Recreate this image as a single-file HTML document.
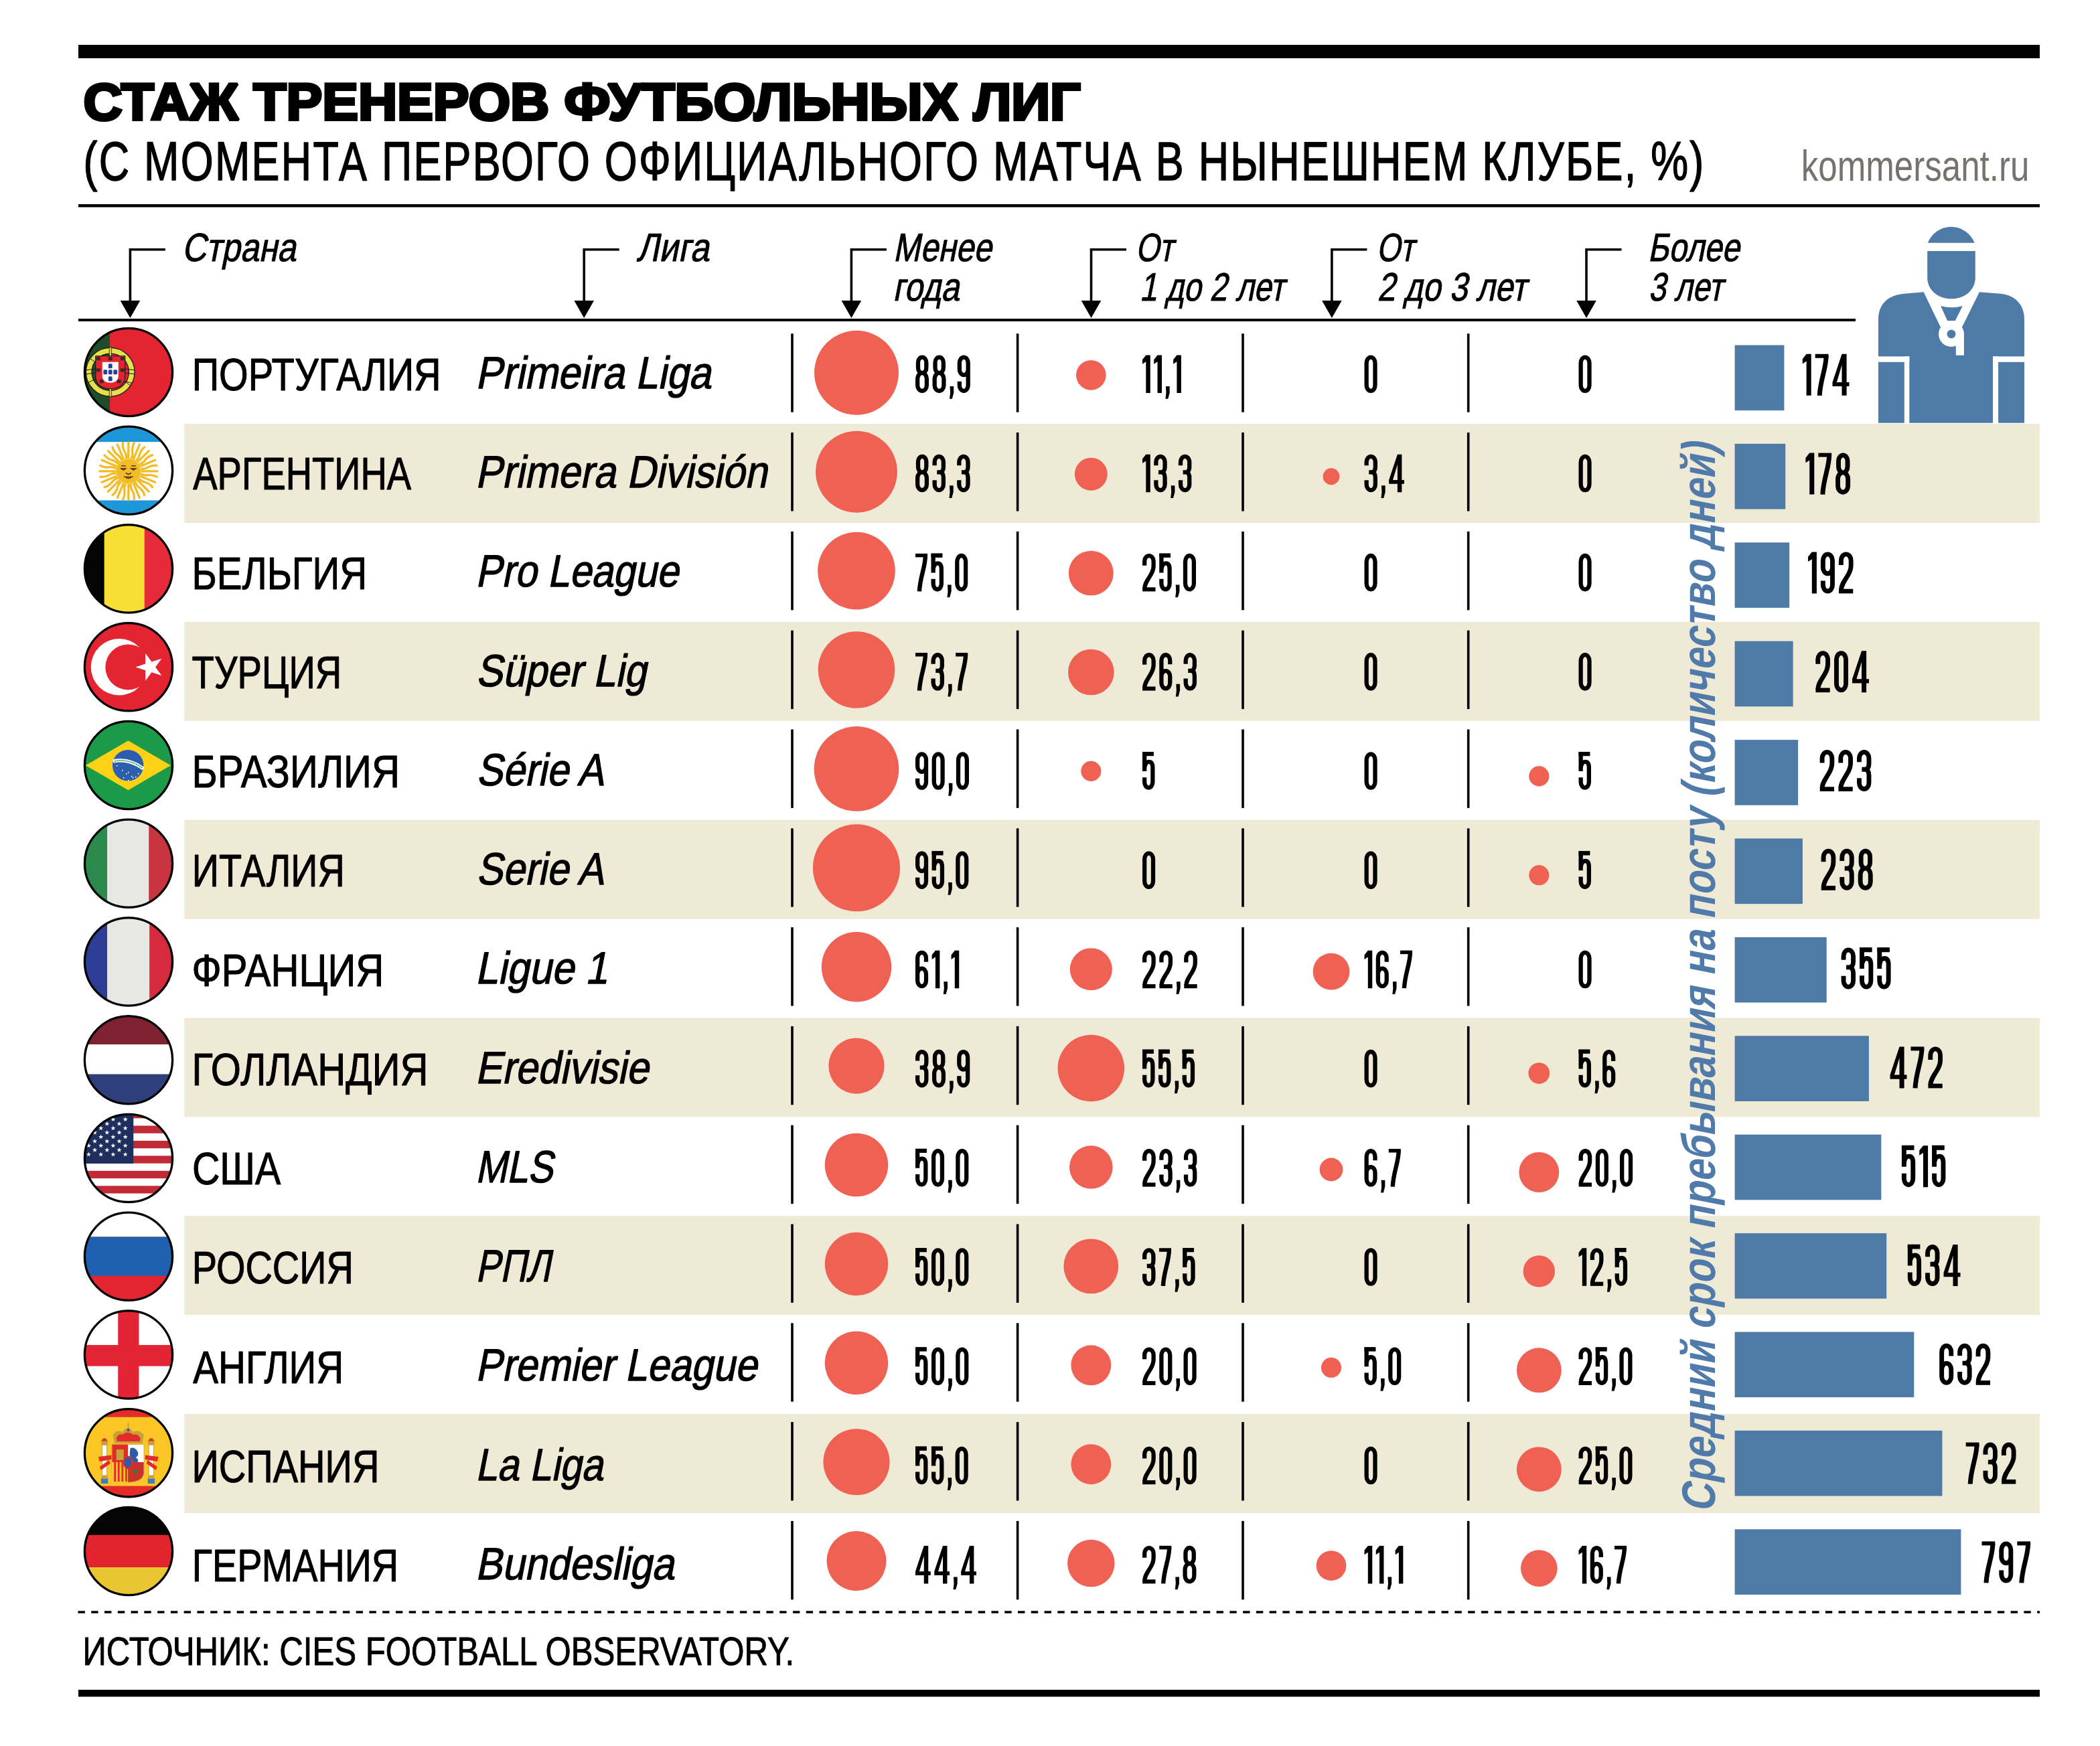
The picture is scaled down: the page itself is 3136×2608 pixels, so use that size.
<!DOCTYPE html><html><head><meta charset="utf-8"><style>html,body{margin:0;padding:0;background:#fff;overflow:hidden;}svg{display:block;font-family:"Liberation Sans",sans-serif;}</style></head><body>
<svg width="3136" height="2608" viewBox="0 0 3136 2608">
<defs><g id="g0"><path d="M3.45,13 A7.05,9.6 0 0 1 17.55,13 V49 A7.05,9.6 0 0 1 3.45,49 Z" fill="none" stroke="#000" stroke-width="6.9"/></g><g id="g1"><path d="M5.8,0 H12.9 V62 H5.8 V10.8 L0,14.6 V7.4 Z"/></g><g id="g2"><path d="M3.45,19.5 V12.6 A7.4,9.15 0 0 1 18.25,12.6 V20 C18.25,26 16.8,29.5 13.2,35.5 C7.5,45 3.6,50 3.6,57" fill="none" stroke="#000" stroke-width="6.9"/><path d="M0.15,55.3 H21.4 V62 H0.15 Z"/></g><g id="g3"><path d="M3.45,18.2 V12.6 A7.25,9.15 0 0 1 17.95,12.6 V21 C17.95,26.2 15.8,29.3 11.5,29.3 H7.4 M11.5,29.3 C15.8,29.3 17.95,32.5 17.95,38 V49.4 A7.25,9.15 0 0 1 3.45,49.4 V42.2" fill="none" stroke="#000" stroke-width="6.9"/></g><g id="g4"><path d="M14,0 H21.1 V42.1 H25 V48.3 H21.1 V62 H14 V48.3 H0 V42.1 Z M14,16.5 L6.4,42.1 H14 Z" fill-rule="evenodd"/></g><g id="g5"><path d="M18.4,3.1 H3.45 V31.5" fill="none" stroke="#000" stroke-width="6.9"/><path d="M0,0 H18.4 V6.2 H0 Z"/><path d="M3.45,25 C4.6,19.3 7.3,15.9 10.6,15.9 C14.6,15.9 16.85,19.2 16.85,25.5 V49.4 A6.7,9.15 0 0 1 3.45,49.4 V41.6" fill="none" stroke="#000" stroke-width="6.9"/></g><g id="g6"><path d="M17.55,18.8 V12.6 A7.05,9.15 0 0 0 3.45,12.6 V49.4 A7.05,9.15 0 0 0 17.55,49.4 V38.7 A7.05,9.1 0 0 0 3.45,38.7" fill="none" stroke="#000" stroke-width="6.9"/></g><g id="g7"><path d="M0,0 H19.8 V6 H0 Z"/><path d="M16.35,3 C16.35,22 7.6,38 6.5,62" fill="none" stroke="#000" stroke-width="7.0"/></g><g id="g8"><path d="M4.4,11.9 A6.75,8.5 0 0 1 17.9,11.9 V20.75 A6.75,8.5 0 0 1 4.4,20.75 Z M3.45,38.75 A7.55,9.5 0 0 1 18.55,38.75 V49.1 A7.55,9.5 0 0 1 3.45,49.1 Z" fill="none" stroke="#000" stroke-width="6.9"/></g><g id="g9"><g transform="rotate(180 10.5 31)"><path d="M17.55,18.8 V12.6 A7.05,9.15 0 0 0 3.45,12.6 V49.4 A7.05,9.15 0 0 0 17.55,49.4 V38.7 A7.05,9.1 0 0 0 3.45,38.7" fill="none" stroke="#000" stroke-width="6.9"/></g></g><g id="gc"><path d="M0.55,51.1 H6.8 V62 L4.15,71.7 H0 L1.1,62 Z"/></g></defs>
<rect x="0" y="0" width="3136" height="2608" fill="#fff"/>
<rect x="275.4" y="633.0" width="2770.6" height="148" fill="#efead5"/>
<rect x="275.4" y="928.8" width="2770.6" height="148" fill="#efead5"/>
<rect x="275.4" y="1224.6" width="2770.6" height="148" fill="#efead5"/>
<rect x="275.4" y="1520.4" width="2770.6" height="148" fill="#efead5"/>
<rect x="275.4" y="1816.2" width="2770.6" height="148" fill="#efead5"/>
<rect x="275.4" y="2112.0" width="2770.6" height="148" fill="#efead5"/>
<rect x="117" y="67" width="2929" height="20" fill="#000"/>
<rect x="117" y="305" width="2929" height="4.5" fill="#000"/>
<rect x="117" y="476" width="2654" height="4" fill="#000"/>
<line x1="116.5" y1="2408" x2="3046" y2="2408" stroke="#000" stroke-width="3.6" stroke-dasharray="10.4 9.368"/>
<rect x="117" y="2524" width="2929" height="10.4" fill="#000"/>
<path d="M246.9,372.7 H194.4 V452" fill="none" stroke="#000" stroke-width="3.6"/>
<path d="M179.6,449.1 H209.2 L194.4,474.9 Z" fill="#000"/>
<path d="M924.7,372.7 H872.2 V452" fill="none" stroke="#000" stroke-width="3.6"/>
<path d="M857.4,449.1 H887.0 L872.2,474.9 Z" fill="#000"/>
<path d="M1323.9,372.7 H1271.4 V452" fill="none" stroke="#000" stroke-width="3.6"/>
<path d="M1256.6,449.1 H1286.2 L1271.4,474.9 Z" fill="#000"/>
<path d="M1682.0,372.7 H1629.5 V452" fill="none" stroke="#000" stroke-width="3.6"/>
<path d="M1614.7,449.1 H1644.3 L1629.5,474.9 Z" fill="#000"/>
<path d="M2041.4,372.7 H1988.9 V452" fill="none" stroke="#000" stroke-width="3.6"/>
<path d="M1974.1,449.1 H2003.7 L1988.9,474.9 Z" fill="#000"/>
<path d="M2421.5,372.7 H2369.0 V452" fill="none" stroke="#000" stroke-width="3.6"/>
<path d="M2354.2,449.1 H2383.8 L2369.0,474.9 Z" fill="#000"/>
<rect x="1181.2" y="498.3" width="3.6" height="117.4" fill="#000"/>
<rect x="1517.8" y="498.3" width="3.6" height="117.4" fill="#000"/>
<rect x="1854.2" y="498.3" width="3.6" height="117.4" fill="#000"/>
<rect x="2190.9" y="498.3" width="3.6" height="117.4" fill="#000"/>
<rect x="1181.2" y="646.1" width="3.6" height="117.4" fill="#000"/>
<rect x="1517.8" y="646.1" width="3.6" height="117.4" fill="#000"/>
<rect x="1854.2" y="646.1" width="3.6" height="117.4" fill="#000"/>
<rect x="2190.9" y="646.1" width="3.6" height="117.4" fill="#000"/>
<rect x="1181.2" y="793.9" width="3.6" height="117.4" fill="#000"/>
<rect x="1517.8" y="793.9" width="3.6" height="117.4" fill="#000"/>
<rect x="1854.2" y="793.9" width="3.6" height="117.4" fill="#000"/>
<rect x="2190.9" y="793.9" width="3.6" height="117.4" fill="#000"/>
<rect x="1181.2" y="941.7" width="3.6" height="117.4" fill="#000"/>
<rect x="1517.8" y="941.7" width="3.6" height="117.4" fill="#000"/>
<rect x="1854.2" y="941.7" width="3.6" height="117.4" fill="#000"/>
<rect x="2190.9" y="941.7" width="3.6" height="117.4" fill="#000"/>
<rect x="1181.2" y="1089.5" width="3.6" height="117.4" fill="#000"/>
<rect x="1517.8" y="1089.5" width="3.6" height="117.4" fill="#000"/>
<rect x="1854.2" y="1089.5" width="3.6" height="117.4" fill="#000"/>
<rect x="2190.9" y="1089.5" width="3.6" height="117.4" fill="#000"/>
<rect x="1181.2" y="1237.3" width="3.6" height="117.4" fill="#000"/>
<rect x="1517.8" y="1237.3" width="3.6" height="117.4" fill="#000"/>
<rect x="1854.2" y="1237.3" width="3.6" height="117.4" fill="#000"/>
<rect x="2190.9" y="1237.3" width="3.6" height="117.4" fill="#000"/>
<rect x="1181.2" y="1385.1" width="3.6" height="117.4" fill="#000"/>
<rect x="1517.8" y="1385.1" width="3.6" height="117.4" fill="#000"/>
<rect x="1854.2" y="1385.1" width="3.6" height="117.4" fill="#000"/>
<rect x="2190.9" y="1385.1" width="3.6" height="117.4" fill="#000"/>
<rect x="1181.2" y="1532.9" width="3.6" height="117.4" fill="#000"/>
<rect x="1517.8" y="1532.9" width="3.6" height="117.4" fill="#000"/>
<rect x="1854.2" y="1532.9" width="3.6" height="117.4" fill="#000"/>
<rect x="2190.9" y="1532.9" width="3.6" height="117.4" fill="#000"/>
<rect x="1181.2" y="1680.7" width="3.6" height="117.4" fill="#000"/>
<rect x="1517.8" y="1680.7" width="3.6" height="117.4" fill="#000"/>
<rect x="1854.2" y="1680.7" width="3.6" height="117.4" fill="#000"/>
<rect x="2190.9" y="1680.7" width="3.6" height="117.4" fill="#000"/>
<rect x="1181.2" y="1828.5" width="3.6" height="117.4" fill="#000"/>
<rect x="1517.8" y="1828.5" width="3.6" height="117.4" fill="#000"/>
<rect x="1854.2" y="1828.5" width="3.6" height="117.4" fill="#000"/>
<rect x="2190.9" y="1828.5" width="3.6" height="117.4" fill="#000"/>
<rect x="1181.2" y="1976.3" width="3.6" height="117.4" fill="#000"/>
<rect x="1517.8" y="1976.3" width="3.6" height="117.4" fill="#000"/>
<rect x="1854.2" y="1976.3" width="3.6" height="117.4" fill="#000"/>
<rect x="2190.9" y="1976.3" width="3.6" height="117.4" fill="#000"/>
<rect x="1181.2" y="2124.1" width="3.6" height="117.4" fill="#000"/>
<rect x="1517.8" y="2124.1" width="3.6" height="117.4" fill="#000"/>
<rect x="1854.2" y="2124.1" width="3.6" height="117.4" fill="#000"/>
<rect x="2190.9" y="2124.1" width="3.6" height="117.4" fill="#000"/>
<rect x="1181.2" y="2271.9" width="3.6" height="117.4" fill="#000"/>
<rect x="1517.8" y="2271.9" width="3.6" height="117.4" fill="#000"/>
<rect x="1854.2" y="2271.9" width="3.6" height="117.4" fill="#000"/>
<rect x="2190.9" y="2271.9" width="3.6" height="117.4" fill="#000"/>
<circle cx="1279" cy="556.8" r="62.95" fill="#ee6153"/>
<circle cx="1629.3" cy="560.3" r="22.34" fill="#ee6153"/>
<circle cx="1279" cy="704.7" r="60.94" fill="#ee6153"/>
<circle cx="1629.3" cy="708.2" r="24.44" fill="#ee6153"/>
<circle cx="1988" cy="711.7" r="12.43" fill="#ee6153"/>
<circle cx="1279" cy="852.6" r="57.83" fill="#ee6153"/>
<circle cx="1629.3" cy="856.1" r="33.45" fill="#ee6153"/>
<circle cx="1279" cy="1000.5" r="57.33" fill="#ee6153"/>
<circle cx="1629.3" cy="1004.0" r="34.30" fill="#ee6153"/>
<circle cx="1279" cy="1148.4" r="63.33" fill="#ee6153"/>
<circle cx="1629.3" cy="1151.9" r="15.04" fill="#ee6153"/>
<circle cx="2298.3" cy="1159.4" r="15.04" fill="#ee6153"/>
<circle cx="1279" cy="1296.3" r="65.06" fill="#ee6153"/>
<circle cx="2298.3" cy="1307.3" r="15.04" fill="#ee6153"/>
<circle cx="1279" cy="1444.2" r="52.21" fill="#ee6153"/>
<circle cx="1629.3" cy="1447.7" r="31.53" fill="#ee6153"/>
<circle cx="1988" cy="1451.2" r="27.37" fill="#ee6153"/>
<circle cx="1279" cy="1592.1" r="41.69" fill="#ee6153"/>
<circle cx="1629.3" cy="1595.6" r="49.77" fill="#ee6153"/>
<circle cx="2298.3" cy="1603.1" r="15.91" fill="#ee6153"/>
<circle cx="1279" cy="1740.0" r="47.24" fill="#ee6153"/>
<circle cx="1629.3" cy="1743.5" r="32.30" fill="#ee6153"/>
<circle cx="1988" cy="1747.0" r="17.39" fill="#ee6153"/>
<circle cx="2298.3" cy="1751.0" r="29.93" fill="#ee6153"/>
<circle cx="1279" cy="1887.9" r="47.24" fill="#ee6153"/>
<circle cx="1629.3" cy="1891.4" r="40.93" fill="#ee6153"/>
<circle cx="2298.3" cy="1898.9" r="23.70" fill="#ee6153"/>
<circle cx="1279" cy="2035.8" r="47.24" fill="#ee6153"/>
<circle cx="1629.3" cy="2039.3" r="29.93" fill="#ee6153"/>
<circle cx="1988" cy="2042.8" r="15.04" fill="#ee6153"/>
<circle cx="2298.3" cy="2046.8" r="33.45" fill="#ee6153"/>
<circle cx="1279" cy="2183.7" r="49.54" fill="#ee6153"/>
<circle cx="1629.3" cy="2187.2" r="29.93" fill="#ee6153"/>
<circle cx="2298.3" cy="2194.7" r="33.45" fill="#ee6153"/>
<circle cx="1279" cy="2331.6" r="44.53" fill="#ee6153"/>
<circle cx="1629.3" cy="2335.1" r="35.27" fill="#ee6153"/>
<circle cx="1988" cy="2338.6" r="22.34" fill="#ee6153"/>
<circle cx="2298.3" cy="2342.6" r="27.37" fill="#ee6153"/>
<rect x="2590.6" y="515.5" width="73.8" height="97.6" fill="#4e7aa7"/>
<rect x="2590.6" y="662.9" width="75.6" height="97.6" fill="#4e7aa7"/>
<rect x="2590.6" y="810.3" width="81.6" height="97.6" fill="#4e7aa7"/>
<rect x="2590.6" y="957.7" width="87.0" height="97.6" fill="#4e7aa7"/>
<rect x="2590.6" y="1105.1" width="94.5" height="97.6" fill="#4e7aa7"/>
<rect x="2590.6" y="1252.5" width="101.3" height="97.6" fill="#4e7aa7"/>
<rect x="2590.6" y="1399.9" width="137.1" height="97.6" fill="#4e7aa7"/>
<rect x="2590.6" y="1547.3" width="200.3" height="97.6" fill="#4e7aa7"/>
<rect x="2590.6" y="1694.7" width="218.7" height="97.6" fill="#4e7aa7"/>
<rect x="2590.6" y="1842.1" width="226.6" height="97.6" fill="#4e7aa7"/>
<rect x="2590.6" y="1989.5" width="267.7" height="97.6" fill="#4e7aa7"/>
<rect x="2590.6" y="2136.9" width="309.8" height="97.6" fill="#4e7aa7"/>
<rect x="2590.6" y="2284.3" width="337.8" height="97.6" fill="#4e7aa7"/>
<text transform="translate(124.61,179.20) scale(1.0339,1)" font-size="77.91" font-weight="bold" fill="#000" stroke="#000" stroke-width="4.2" stroke-linejoin="miter" stroke-miterlimit="2">СТАЖ ТРЕНЕРОВ ФУТБОЛЬНЫХ ЛИГ</text>
<text transform="translate(124.43,269.20) scale(0.7679,1)" font-size="81.83" fill="#000" stroke="#000" stroke-width="1.5" stroke-linejoin="round" letter-spacing="3.0">(С МОМЕНТА ПЕРВОГО ОФИЦИАЛЬНОГО МАТЧА В НЫНЕШНЕМ КЛУБЕ, %)</text>
<text transform="translate(2689.71,269.80) scale(0.7825,1)" font-size="65.30" fill="#77726e">kommersant.ru</text>
<text transform="translate(271.48,390.30) skewX(-11.0) scale(0.8440,1)" font-size="59.30" fill="#000" stroke="#000" stroke-width="1.0" stroke-linejoin="round">Страна</text>
<text transform="translate(950.52,390.30) skewX(-11.0) scale(0.8623,1)" font-size="59.30" fill="#000" stroke="#000" stroke-width="1.0" stroke-linejoin="round">Лига</text>
<text transform="translate(1333.66,389.90) skewX(-11.0) scale(0.8090,1)" font-size="59.30" fill="#000" stroke="#000" stroke-width="1.0" stroke-linejoin="round">Менее</text>
<text transform="translate(1333.35,448.90) skewX(-11.0) scale(0.8278,1)" font-size="59.30" fill="#000" stroke="#000" stroke-width="1.0" stroke-linejoin="round">года</text>
<text transform="translate(1695.67,390.00) skewX(-11.0) scale(0.7636,1)" font-size="59.30" fill="#000" stroke="#000" stroke-width="1.0" stroke-linejoin="round">От</text>
<text transform="translate(1701.65,448.90) skewX(-11.0) scale(0.7844,1)" font-size="59.30" fill="#000" stroke="#000" stroke-width="1.0" stroke-linejoin="round">1 до 2 лет</text>
<text transform="translate(2055.57,390.00) skewX(-11.0) scale(0.7636,1)" font-size="59.30" fill="#000" stroke="#000" stroke-width="1.0" stroke-linejoin="round">От</text>
<text transform="translate(2056.64,448.90) skewX(-11.0) scale(0.8074,1)" font-size="59.30" fill="#000" stroke="#000" stroke-width="1.0" stroke-linejoin="round">2 до 3 лет</text>
<text transform="translate(2460.86,390.00) skewX(-11.0) scale(0.7985,1)" font-size="59.30" fill="#000" stroke="#000" stroke-width="1.0" stroke-linejoin="round">Более</text>
<text transform="translate(2461.85,448.90) skewX(-11.0) scale(0.7782,1)" font-size="59.30" fill="#000" stroke="#000" stroke-width="1.0" stroke-linejoin="round">3 лет</text>
<text transform="translate(286.64,583.00) scale(0.8274,1)" font-size="67.88" fill="#000" stroke="#000" stroke-width="1.1" stroke-linejoin="round">ПОРТУГАЛИЯ</text>
<text transform="translate(288.31,731.25) scale(0.8023,1)" font-size="67.88" fill="#000" stroke="#000" stroke-width="1.1" stroke-linejoin="round">АРГЕНТИНА</text>
<text transform="translate(286.50,879.50) scale(0.8351,1)" font-size="67.88" fill="#000" stroke="#000" stroke-width="1.1" stroke-linejoin="round">БЕЛЬГИЯ</text>
<text transform="translate(286.39,1027.75) scale(0.8054,1)" font-size="67.88" fill="#000" stroke="#000" stroke-width="1.1" stroke-linejoin="round">ТУРЦИЯ</text>
<text transform="translate(286.50,1176.00) scale(0.8581,1)" font-size="67.88" fill="#000" stroke="#000" stroke-width="1.1" stroke-linejoin="round">БРАЗИЛИЯ</text>
<text transform="translate(286.84,1324.25) scale(0.8225,1)" font-size="67.88" fill="#000" stroke="#000" stroke-width="1.1" stroke-linejoin="round">ИТАЛИЯ</text>
<text transform="translate(286.56,1472.50) scale(0.8564,1)" font-size="67.88" fill="#000" stroke="#000" stroke-width="1.1" stroke-linejoin="round">ФРАНЦИЯ</text>
<text transform="translate(286.50,1620.75) scale(0.8563,1)" font-size="67.88" fill="#000" stroke="#000" stroke-width="1.1" stroke-linejoin="round">ГОЛЛАНДИЯ</text>
<text transform="translate(286.90,1769.00) scale(0.8453,1)" font-size="67.88" fill="#000" stroke="#000" stroke-width="1.1" stroke-linejoin="round">США</text>
<text transform="translate(286.84,1917.25) scale(0.8241,1)" font-size="67.88" fill="#000" stroke="#000" stroke-width="1.1" stroke-linejoin="round">РОССИЯ</text>
<text transform="translate(288.31,2065.50) scale(0.8342,1)" font-size="67.88" fill="#000" stroke="#000" stroke-width="1.1" stroke-linejoin="round">АНГЛИЯ</text>
<text transform="translate(286.50,2213.75) scale(0.8267,1)" font-size="67.88" fill="#000" stroke="#000" stroke-width="1.1" stroke-linejoin="round">ИСПАНИЯ</text>
<text transform="translate(286.84,2362.00) scale(0.8214,1)" font-size="67.88" fill="#000" stroke="#000" stroke-width="1.1" stroke-linejoin="round">ГЕРМАНИЯ</text>
<text transform="translate(709.99,579.80) skewX(-11.0) scale(0.8867,1)" font-size="67.30" fill="#000" stroke="#000" stroke-width="1.3" stroke-linejoin="round">Primeira Liga</text>
<text transform="translate(709.69,728.05) skewX(-11.0) scale(0.8895,1)" font-size="67.30" fill="#000" stroke="#000" stroke-width="1.3" stroke-linejoin="round">Primera División</text>
<text transform="translate(710.02,876.30) skewX(-11.0) scale(0.8713,1)" font-size="67.30" fill="#000" stroke="#000" stroke-width="1.3" stroke-linejoin="round">Pro League</text>
<text transform="translate(710.82,1024.55) skewX(-11.0) scale(0.8824,1)" font-size="67.30" fill="#000" stroke="#000" stroke-width="1.3" stroke-linejoin="round">Süper Lig</text>
<text transform="translate(711.32,1172.80) skewX(-11.0) scale(0.8760,1)" font-size="67.30" fill="#000" stroke="#000" stroke-width="1.3" stroke-linejoin="round">Série A</text>
<text transform="translate(711.32,1321.05) skewX(-11.0) scale(0.8760,1)" font-size="67.30" fill="#000" stroke="#000" stroke-width="1.3" stroke-linejoin="round">Serie A</text>
<text transform="translate(709.69,1469.30) skewX(-11.0) scale(0.8955,1)" font-size="67.30" fill="#000" stroke="#000" stroke-width="1.3" stroke-linejoin="round">Ligue 1</text>
<text transform="translate(709.69,1617.55) skewX(-11.0) scale(0.8870,1)" font-size="67.30" fill="#000" stroke="#000" stroke-width="1.3" stroke-linejoin="round">Eredivisie</text>
<text transform="translate(710.02,1765.80) skewX(-11.0) scale(0.8355,1)" font-size="67.30" fill="#000" stroke="#000" stroke-width="1.3" stroke-linejoin="round">MLS</text>
<text transform="translate(710.36,1914.05) skewX(-11.0) scale(0.8117,1)" font-size="67.30" fill="#000" stroke="#000" stroke-width="1.3" stroke-linejoin="round">РПЛ</text>
<text transform="translate(710.02,2062.30) skewX(-11.0) scale(0.8777,1)" font-size="67.30" fill="#000" stroke="#000" stroke-width="1.3" stroke-linejoin="round">Premier League</text>
<text transform="translate(710.02,2210.55) skewX(-11.0) scale(0.8620,1)" font-size="67.30" fill="#000" stroke="#000" stroke-width="1.3" stroke-linejoin="round">La Liga</text>
<text transform="translate(709.69,2358.80) skewX(-11.0) scale(0.8912,1)" font-size="67.30" fill="#000" stroke="#000" stroke-width="1.3" stroke-linejoin="round">Bundesliga</text>
<text transform="translate(123.44,2487.00) scale(0.8255,1)" font-size="59.59" fill="#000" stroke="#000" stroke-width="1.0" stroke-linejoin="round">ИСТОЧНИК: CIES FOOTBALL OBSERVATORY.</text>
<text transform="translate(2561.00,2258.94) rotate(-90) skewX(-11.0) scale(0.8316,1)" font-size="70.50" font-weight="bold" fill="#4f7aa9">Средний срок пребывания на посту (количество дней)</text>
<g transform="translate(1367.00,530.50) scale(0.9113)"><use href="#g8" x="0.00"/><use href="#g8" x="28.00"/><use href="#gc" x="56.00"/><use href="#g9" x="68.80"/></g>
<g transform="translate(1706.00,530.50) scale(0.9113)"><use href="#g1" x="0.00"/><use href="#g1" x="18.90"/><use href="#gc" x="37.80"/><use href="#g1" x="50.60"/></g>
<g transform="translate(2037.50,530.50) scale(0.9113)"><use href="#g0" x="0.00"/></g>
<g transform="translate(2357.50,530.50) scale(0.9113)"><use href="#g0" x="0.00"/></g>
<g transform="translate(1367.00,678.70) scale(0.9113)"><use href="#g8" x="0.00"/><use href="#g3" x="28.00"/><use href="#gc" x="55.40"/><use href="#g3" x="68.20"/></g>
<g transform="translate(1706.00,678.70) scale(0.9113)"><use href="#g1" x="0.00"/><use href="#g3" x="18.90"/><use href="#gc" x="46.30"/><use href="#g3" x="59.10"/></g>
<g transform="translate(2037.50,678.70) scale(0.9113)"><use href="#g3" x="0.00"/><use href="#gc" x="27.40"/><use href="#g4" x="40.20"/></g>
<g transform="translate(2357.50,678.70) scale(0.9113)"><use href="#g0" x="0.00"/></g>
<g transform="translate(1367.00,826.90) scale(0.9113)"><use href="#g7" x="0.00"/><use href="#g5" x="25.80"/><use href="#gc" x="52.10"/><use href="#g0" x="64.90"/></g>
<g transform="translate(1706.00,826.90) scale(0.9113)"><use href="#g2" x="0.00"/><use href="#g5" x="27.70"/><use href="#gc" x="54.00"/><use href="#g0" x="66.80"/></g>
<g transform="translate(2037.50,826.90) scale(0.9113)"><use href="#g0" x="0.00"/></g>
<g transform="translate(2357.50,826.90) scale(0.9113)"><use href="#g0" x="0.00"/></g>
<g transform="translate(1367.00,975.10) scale(0.9113)"><use href="#g7" x="0.00"/><use href="#g3" x="25.80"/><use href="#gc" x="53.20"/><use href="#g7" x="66.00"/></g>
<g transform="translate(1706.00,975.10) scale(0.9113)"><use href="#g2" x="0.00"/><use href="#g6" x="27.70"/><use href="#gc" x="54.70"/><use href="#g3" x="67.50"/></g>
<g transform="translate(2037.50,975.10) scale(0.9113)"><use href="#g0" x="0.00"/></g>
<g transform="translate(2357.50,975.10) scale(0.9113)"><use href="#g0" x="0.00"/></g>
<g transform="translate(1367.00,1123.30) scale(0.9113)"><use href="#g9" x="0.00"/><use href="#g0" x="27.00"/><use href="#gc" x="54.00"/><use href="#g0" x="66.80"/></g>
<g transform="translate(1706.00,1123.30) scale(0.9113)"><use href="#g5" x="0.00"/></g>
<g transform="translate(2037.50,1123.30) scale(0.9113)"><use href="#g0" x="0.00"/></g>
<g transform="translate(2357.50,1123.30) scale(0.9113)"><use href="#g5" x="0.00"/></g>
<g transform="translate(1367.00,1271.50) scale(0.9113)"><use href="#g9" x="0.00"/><use href="#g5" x="27.00"/><use href="#gc" x="53.30"/><use href="#g0" x="66.10"/></g>
<g transform="translate(1706.00,1271.50) scale(0.9113)"><use href="#g0" x="0.00"/></g>
<g transform="translate(2037.50,1271.50) scale(0.9113)"><use href="#g0" x="0.00"/></g>
<g transform="translate(2357.50,1271.50) scale(0.9113)"><use href="#g5" x="0.00"/></g>
<g transform="translate(1367.00,1419.70) scale(0.9113)"><use href="#g6" x="0.00"/><use href="#g1" x="27.00"/><use href="#gc" x="45.90"/><use href="#g1" x="58.70"/></g>
<g transform="translate(1706.00,1419.70) scale(0.9113)"><use href="#g2" x="0.00"/><use href="#g2" x="27.70"/><use href="#gc" x="55.40"/><use href="#g2" x="68.20"/></g>
<g transform="translate(2037.50,1419.70) scale(0.9113)"><use href="#g1" x="0.00"/><use href="#g6" x="18.90"/><use href="#gc" x="45.90"/><use href="#g7" x="58.70"/></g>
<g transform="translate(2357.50,1419.70) scale(0.9113)"><use href="#g0" x="0.00"/></g>
<g transform="translate(1367.00,1567.90) scale(0.9113)"><use href="#g3" x="0.00"/><use href="#g8" x="27.40"/><use href="#gc" x="55.40"/><use href="#g9" x="68.20"/></g>
<g transform="translate(1706.00,1567.90) scale(0.9113)"><use href="#g5" x="0.00"/><use href="#g5" x="26.30"/><use href="#gc" x="52.60"/><use href="#g5" x="65.40"/></g>
<g transform="translate(2037.50,1567.90) scale(0.9113)"><use href="#g0" x="0.00"/></g>
<g transform="translate(2357.50,1567.90) scale(0.9113)"><use href="#g5" x="0.00"/><use href="#gc" x="26.30"/><use href="#g6" x="39.10"/></g>
<g transform="translate(1367.00,1716.10) scale(0.9113)"><use href="#g5" x="0.00"/><use href="#g0" x="26.30"/><use href="#gc" x="53.30"/><use href="#g0" x="66.10"/></g>
<g transform="translate(1706.00,1716.10) scale(0.9113)"><use href="#g2" x="0.00"/><use href="#g3" x="27.70"/><use href="#gc" x="55.10"/><use href="#g3" x="67.90"/></g>
<g transform="translate(2037.50,1716.10) scale(0.9113)"><use href="#g6" x="0.00"/><use href="#gc" x="27.00"/><use href="#g7" x="39.80"/></g>
<g transform="translate(2357.50,1716.10) scale(0.9113)"><use href="#g2" x="0.00"/><use href="#g0" x="27.70"/><use href="#gc" x="54.70"/><use href="#g0" x="67.50"/></g>
<g transform="translate(1367.00,1864.30) scale(0.9113)"><use href="#g5" x="0.00"/><use href="#g0" x="26.30"/><use href="#gc" x="53.30"/><use href="#g0" x="66.10"/></g>
<g transform="translate(1706.00,1864.30) scale(0.9113)"><use href="#g3" x="0.00"/><use href="#g7" x="27.40"/><use href="#gc" x="53.20"/><use href="#g5" x="66.00"/></g>
<g transform="translate(2037.50,1864.30) scale(0.9113)"><use href="#g0" x="0.00"/></g>
<g transform="translate(2357.50,1864.30) scale(0.9113)"><use href="#g1" x="0.00"/><use href="#g2" x="18.90"/><use href="#gc" x="46.60"/><use href="#g5" x="59.40"/></g>
<g transform="translate(1367.00,2012.50) scale(0.9113)"><use href="#g5" x="0.00"/><use href="#g0" x="26.30"/><use href="#gc" x="53.30"/><use href="#g0" x="66.10"/></g>
<g transform="translate(1706.00,2012.50) scale(0.9113)"><use href="#g2" x="0.00"/><use href="#g0" x="27.70"/><use href="#gc" x="54.70"/><use href="#g0" x="67.50"/></g>
<g transform="translate(2037.50,2012.50) scale(0.9113)"><use href="#g5" x="0.00"/><use href="#gc" x="26.30"/><use href="#g0" x="39.10"/></g>
<g transform="translate(2357.50,2012.50) scale(0.9113)"><use href="#g2" x="0.00"/><use href="#g5" x="27.70"/><use href="#gc" x="54.00"/><use href="#g0" x="66.80"/></g>
<g transform="translate(1367.00,2160.70) scale(0.9113)"><use href="#g5" x="0.00"/><use href="#g5" x="26.30"/><use href="#gc" x="52.60"/><use href="#g0" x="65.40"/></g>
<g transform="translate(1706.00,2160.70) scale(0.9113)"><use href="#g2" x="0.00"/><use href="#g0" x="27.70"/><use href="#gc" x="54.70"/><use href="#g0" x="67.50"/></g>
<g transform="translate(2037.50,2160.70) scale(0.9113)"><use href="#g0" x="0.00"/></g>
<g transform="translate(2357.50,2160.70) scale(0.9113)"><use href="#g2" x="0.00"/><use href="#g5" x="27.70"/><use href="#gc" x="54.00"/><use href="#g0" x="66.80"/></g>
<g transform="translate(1367.00,2308.90) scale(0.9113)"><use href="#g4" x="0.00"/><use href="#g4" x="31.00"/><use href="#gc" x="62.00"/><use href="#g4" x="74.80"/></g>
<g transform="translate(1706.00,2308.90) scale(0.9113)"><use href="#g2" x="0.00"/><use href="#g7" x="27.70"/><use href="#gc" x="53.50"/><use href="#g8" x="66.30"/></g>
<g transform="translate(2037.50,2308.90) scale(0.9113)"><use href="#g1" x="0.00"/><use href="#g1" x="18.90"/><use href="#gc" x="37.80"/><use href="#g1" x="50.60"/></g>
<g transform="translate(2357.50,2308.90) scale(0.9113)"><use href="#g1" x="0.00"/><use href="#g6" x="18.90"/><use href="#gc" x="45.90"/><use href="#g7" x="58.70"/></g>
<g transform="translate(2691.80,528.80) scale(1.0000)"><use href="#g1" x="0.00"/><use href="#g7" x="18.90"/><use href="#g4" x="44.70"/></g>
<g transform="translate(2696.40,676.60) scale(1.0000)"><use href="#g1" x="0.00"/><use href="#g7" x="18.90"/><use href="#g8" x="44.70"/></g>
<g transform="translate(2700.00,824.40) scale(1.0000)"><use href="#g1" x="0.00"/><use href="#g9" x="18.90"/><use href="#g2" x="45.90"/></g>
<g transform="translate(2711.30,972.20) scale(1.0000)"><use href="#g2" x="0.00"/><use href="#g0" x="27.70"/><use href="#g4" x="54.70"/></g>
<g transform="translate(2717.60,1120.00) scale(1.0000)"><use href="#g2" x="0.00"/><use href="#g2" x="27.70"/><use href="#g3" x="55.40"/></g>
<g transform="translate(2719.60,1267.80) scale(1.0000)"><use href="#g2" x="0.00"/><use href="#g3" x="27.70"/><use href="#g8" x="55.10"/></g>
<g transform="translate(2749.60,1415.60) scale(1.0000)"><use href="#g3" x="0.00"/><use href="#g5" x="27.40"/><use href="#g5" x="53.70"/></g>
<g transform="translate(2822.50,1563.40) scale(1.0000)"><use href="#g4" x="0.00"/><use href="#g7" x="31.00"/><use href="#g2" x="56.80"/></g>
<g transform="translate(2839.90,1711.20) scale(1.0000)"><use href="#g5" x="0.00"/><use href="#g1" x="26.30"/><use href="#g5" x="45.20"/></g>
<g transform="translate(2848.80,1859.00) scale(1.0000)"><use href="#g5" x="0.00"/><use href="#g3" x="26.30"/><use href="#g4" x="53.70"/></g>
<g transform="translate(2896.20,2006.80) scale(1.0000)"><use href="#g6" x="0.00"/><use href="#g3" x="27.00"/><use href="#g2" x="54.40"/></g>
<g transform="translate(2935.70,2154.60) scale(1.0000)"><use href="#g7" x="0.00"/><use href="#g3" x="25.80"/><use href="#g2" x="53.20"/></g>
<g transform="translate(2959.50,2302.40) scale(1.0000)"><use href="#g7" x="0.00"/><use href="#g9" x="25.80"/><use href="#g7" x="52.80"/></g>
<path d="M2805,631.8 V477.4 C2805,452 2822,440.5 2843.3,438.7 L2872.2,436.2 H2956 L2988,438.7 C3006,440.5 3023,452 3023,477.4 V631.8 Z" fill="#4e7aa7"/>
<path d="M2872.5,436 H2956 L2929.8,489 L2898.1,489 Z" fill="#fff"/>
<path d="M2898.1,457.1 Q2914.5,461.5 2930.8,457.1 L2919.8,479.1 H2908.1 Z" fill="#4e7aa7"/>
<path d="M2878.2,374.9 H2949.8 V415 C2949.8,433 2934,446.3 2914,446.3 C2894,446.3 2878.2,433 2878.2,415 Z" fill="#4e7aa7"/>
<path d="M2878.8,362.8 A37.4,37.4 0 0 1 2948.6,362.8 Z" fill="#4e7aa7"/>
<circle cx="2914" cy="499" r="19" fill="#fff"/>
<circle cx="2914" cy="499" r="6.5" fill="#4e7aa7"/>
<rect x="2920.8" y="498" width="12.1" height="32.7" fill="#fff"/>
<rect x="2805" y="532.4" width="46.3" height="8.4" fill="#fff"/>
<rect x="2843.8" y="532.4" width="7.5" height="100" fill="#fff"/>
<rect x="2976.1" y="532.4" width="47" height="8.4" fill="#fff"/>
<rect x="2976.1" y="532.4" width="8" height="100" fill="#fff"/>
<g><clipPath id="fc0"><circle cx="67.25" cy="67.25" r="65.60"/></clipPath><g transform="translate(124.75,488.75)"><g clip-path="url(#fc0)"><rect x="0.00" y="0.00" width="134.50" height="134.50" fill="#e52431"/><rect x="0.00" y="0.00" width="39.30" height="134.50" fill="#1f4d2a"/><circle cx="40" cy="67" r="32" fill="none" stroke="#e6e04a" stroke-width="8.5"/><circle cx="40" cy="67" r="36.3" fill="none" stroke="#1a1a1a" stroke-width="1.3"/><circle cx="40" cy="67" r="27.7" fill="none" stroke="#1a1a1a" stroke-width="1.3"/><path d="M4,64 Q40,58 76,64 M4,70 Q40,64 76,70" fill="none" stroke="#1a1a1a" stroke-width="1.1"/><path d="M10,47 L70,87 M8,82 Q30,70 73,84" fill="none" stroke="#1a1a1a" stroke-width="1.0"/><rect x="38.5" y="30" width="3" height="74" fill="#e6e04a" stroke="#1a1a1a" stroke-width="0.8"/><path d="M18,43 H62 V73 C62,87 51,92 40,92 C29,92 18,87 18,73 Z" fill="#e52431" stroke="#1a1a1a" stroke-width="1.2"/><rect x="19.00" y="44.50" width="6.00" height="5.00" fill="#3a2a20"/><rect x="37.00" y="44.50" width="6.00" height="5.00" fill="#3a2a20"/><rect x="55.00" y="44.50" width="6.00" height="5.00" fill="#3a2a20"/><rect x="19.00" y="61.50" width="6.00" height="5.00" fill="#3a2a20"/><rect x="55.00" y="61.50" width="6.00" height="5.00" fill="#3a2a20"/><rect x="24.00" y="78.50" width="6.00" height="5.00" fill="#3a2a20"/><rect x="50.00" y="78.50" width="6.00" height="5.00" fill="#3a2a20"/><path d="M28,52 H52 V73 C52,80 46,83 40,83 C34,83 28,80 28,73 Z" fill="#fff"/><rect x="37.1" y="54.4" width="5.8" height="7.2" rx="1.5" fill="#2b3f95"/><rect x="29.6" y="63.4" width="5.8" height="7.2" rx="1.5" fill="#2b3f95"/><rect x="37.1" y="63.4" width="5.8" height="7.2" rx="1.5" fill="#2b3f95"/><rect x="44.6" y="63.4" width="5.8" height="7.2" rx="1.5" fill="#2b3f95"/><rect x="37.1" y="73.4" width="5.8" height="7.2" rx="1.5" fill="#2b3f95"/></g><circle cx="67.25" cy="67.25" r="65.60" fill="none" stroke="#000" stroke-width="3.3"/></g></g>
<g><clipPath id="fc1"><circle cx="67.25" cy="67.25" r="65.60"/></clipPath><g transform="translate(124.75,635.50)"><g clip-path="url(#fc1)"><rect x="0.00" y="0.00" width="134.50" height="134.50" fill="#fff"/><rect x="0.00" y="0.00" width="134.50" height="24.60" fill="#1e97d8"/><rect x="0.00" y="111.90" width="134.50" height="22.60" fill="#1e97d8"/><path d="M85.1,68.3 L110.1,68.3 M84.8,71.8 Q90.2,75.1 96.5,74.2 Q103.8,73.4 109.3,76.7 M83.7,75.2 L106.8,84.8 M82.1,78.3 Q85.8,83.5 92.0,85.0 Q99.1,87.0 102.9,92.2 M79.8,81.0 L97.5,98.7 M77.1,83.3 Q78.6,89.5 83.8,93.2 Q89.5,97.8 91.0,104.1 M74.0,84.9 L83.6,108.0 M70.6,86.0 Q69.6,92.3 73.0,97.7 Q76.5,104.2 75.5,110.5 M67.1,86.3 L67.1,111.3 M63.6,86.0 Q60.3,91.4 61.2,97.7 Q62.0,105.0 58.7,110.5 M60.2,84.9 L50.6,108.0 M57.1,83.3 Q51.9,87.0 50.4,93.2 Q48.4,100.3 43.2,104.1 M54.4,81.0 L36.7,98.7 M52.1,78.3 Q45.9,79.8 42.2,85.0 Q37.6,90.7 31.3,92.2 M50.5,75.2 L27.4,84.8 M49.4,71.8 Q43.1,70.8 37.7,74.2 Q31.2,77.7 24.9,76.7 M49.1,68.3 L24.1,68.3 M49.4,64.8 Q44.0,61.5 37.7,62.4 Q30.4,63.2 24.9,59.9 M50.5,61.4 L27.4,51.8 M52.1,58.3 Q48.4,53.1 42.2,51.6 Q35.1,49.6 31.3,44.4 M54.4,55.6 L36.7,37.9 M57.1,53.3 Q55.6,47.1 50.4,43.4 Q44.7,38.8 43.2,32.5 M60.2,51.7 L50.6,28.6 M63.6,50.6 Q64.6,44.3 61.2,38.9 Q57.7,32.4 58.7,26.1 M67.1,50.3 L67.1,25.3 M70.6,50.6 Q73.9,45.2 73.0,38.9 Q72.2,31.6 75.5,26.1 M74.0,51.7 L83.6,28.6 M77.1,53.3 Q82.3,49.6 83.8,43.4 Q85.8,36.3 91.0,32.5 M79.8,55.6 L97.5,37.9 M82.1,58.3 Q88.3,56.8 92.0,51.6 Q96.6,45.9 102.9,44.4 M83.7,61.4 L106.8,51.8 M84.8,64.8 Q91.1,65.8 96.5,62.4 Q103.0,58.9 109.3,59.9 " stroke="#f2bb27" stroke-width="3.3" stroke-linecap="round" fill="none"/><circle cx="67.1" cy="68.3" r="18.7" fill="#f2bb27" stroke="#fbe878" stroke-width="0.8"/><path d="M56.099999999999994,60.3 h7 M71.1,60.3 h7 M56.099999999999994,64.3 h7 l-3.5,2.5 z M71.1,64.3 h7 l-3.5,2.5 z M63.099999999999994,70.8 q4,4 8,0 M60.099999999999994,76.8 h14 M63.099999999999994,77.3 q4,3.5 8,0" stroke="#3a2410" stroke-width="1.3" fill="none"/></g><circle cx="67.25" cy="67.25" r="65.60" fill="none" stroke="#000" stroke-width="3.3"/></g></g>
<g><clipPath id="fc2"><circle cx="67.25" cy="67.25" r="65.60"/></clipPath><g transform="translate(124.75,782.25)"><g clip-path="url(#fc2)"><rect x="0.00" y="0.00" width="134.50" height="134.50" fill="#e52a3a"/><rect x="0.00" y="0.00" width="31.00" height="134.50" fill="#050505"/><rect x="31.00" y="0.00" width="60.00" height="134.50" fill="#f8df33"/></g><circle cx="67.25" cy="67.25" r="65.60" fill="none" stroke="#000" stroke-width="3.3"/></g></g>
<g><clipPath id="fc3"><circle cx="67.25" cy="67.25" r="65.60"/></clipPath><g transform="translate(124.75,929.00)"><g clip-path="url(#fc3)"><rect x="0.00" y="0.00" width="134.50" height="134.50" fill="#e42431"/><circle cx="53.2" cy="67.3" r="42.2" fill="#fff"/><circle cx="66.6" cy="67.45" r="34" fill="#e42431"/><polygon points="77.50,67.40 92.39,62.52 92.43,46.86 101.66,59.51 116.57,54.70 107.40,67.40 116.57,80.10 101.66,75.29 92.43,87.94 92.39,72.28" fill="#fff"/></g><circle cx="67.25" cy="67.25" r="65.60" fill="none" stroke="#000" stroke-width="3.3"/></g></g>
<g><clipPath id="fc4"><circle cx="67.25" cy="67.25" r="65.60"/></clipPath><g transform="translate(124.75,1075.75)"><g clip-path="url(#fc4)"><rect x="0.00" y="0.00" width="134.50" height="134.50" fill="#1b9a4a"/><polygon points="3.1,67.6 66.7,30.6 130.2,67.6 66.7,104.5" fill="#fcd116"/><circle cx="66.4" cy="67.5" r="23.2" fill="#2c5eb0"/><path d="M44.2,61.3 Q68,56.5 89.5,72.5" stroke="#fff" stroke-width="5.2" fill="none"/><path d="M46,61.3 Q68,57 88,71.5" stroke="#1a8a40" stroke-width="1.6" fill="none" stroke-dasharray="2 1"/><circle cx="58" cy="75" r="0.9" fill="#fff"/><circle cx="67" cy="78" r="0.9" fill="#fff"/><circle cx="64" cy="80" r="0.9" fill="#fff"/><circle cx="72" cy="84" r="0.9" fill="#fff"/><circle cx="60" cy="86" r="0.9" fill="#fff"/><circle cx="67" cy="90" r="0.9" fill="#fff"/><circle cx="82" cy="80" r="0.9" fill="#fff"/><circle cx="78" cy="85" r="0.9" fill="#fff"/><circle cx="74" cy="86" r="0.9" fill="#fff"/><circle cx="50" cy="68" r="0.9" fill="#fff"/></g><circle cx="67.25" cy="67.25" r="65.60" fill="none" stroke="#000" stroke-width="3.3"/></g></g>
<g><clipPath id="fc5"><circle cx="67.25" cy="67.25" r="65.60"/></clipPath><g transform="translate(124.75,1222.50)"><g clip-path="url(#fc5)"><rect x="0.00" y="0.00" width="134.50" height="134.50" fill="#c9353f"/><rect x="0.00" y="0.00" width="35.30" height="134.50" fill="#2a8a4c"/><rect x="35.30" y="0.00" width="62.20" height="134.50" fill="#e7e7e6"/></g><circle cx="67.25" cy="67.25" r="65.60" fill="none" stroke="#000" stroke-width="3.3"/></g></g>
<g><clipPath id="fc6"><circle cx="67.25" cy="67.25" r="65.60"/></clipPath><g transform="translate(124.75,1369.25)"><g clip-path="url(#fc6)"><rect x="0.00" y="0.00" width="134.50" height="134.50" fill="#d52b3c"/><rect x="0.00" y="0.00" width="35.30" height="134.50" fill="#2d3c94"/><rect x="35.30" y="0.00" width="63.10" height="134.50" fill="#e7e7e6"/></g><circle cx="67.25" cy="67.25" r="65.60" fill="none" stroke="#000" stroke-width="3.3"/></g></g>
<g><clipPath id="fc7"><circle cx="67.25" cy="67.25" r="65.60"/></clipPath><g transform="translate(124.75,1516.00)"><g clip-path="url(#fc7)"><rect x="0.00" y="0.00" width="134.50" height="134.50" fill="#2f3f7c"/><rect x="0.00" y="0.00" width="134.50" height="44.00" fill="#7e2130"/><rect x="0.00" y="44.00" width="134.50" height="44.50" fill="#fff"/></g><circle cx="67.25" cy="67.25" r="65.60" fill="none" stroke="#000" stroke-width="3.3"/></g></g>
<g><clipPath id="fc8"><circle cx="67.25" cy="67.25" r="65.60"/></clipPath><g transform="translate(124.75,1662.75)"><g clip-path="url(#fc8)"><rect x="0.00" y="0.00" width="134.50" height="134.50" fill="#fff"/><rect x="0.00" y="-3.70" width="134.50" height="11.30" fill="#c02b35"/><rect x="0.00" y="18.75" width="134.50" height="11.30" fill="#c02b35"/><rect x="0.00" y="41.20" width="134.50" height="11.30" fill="#c02b35"/><rect x="0.00" y="63.65" width="134.50" height="11.30" fill="#c02b35"/><rect x="0.00" y="86.10" width="134.50" height="11.30" fill="#c02b35"/><rect x="0.00" y="108.55" width="134.50" height="11.30" fill="#c02b35"/><rect x="0.00" y="131.00" width="134.50" height="11.30" fill="#c02b35"/><rect x="0.00" y="0.00" width="74.50" height="75.30" fill="#1e2f5e"/><polygon points="62.40,5.50 63.28,8.09 66.01,8.13 63.83,9.76 64.63,12.37 62.40,10.80 60.17,12.37 60.97,9.76 58.79,8.13 61.52,8.09" fill="#fff"/><polygon points="44.15,5.50 45.03,8.09 47.76,8.13 45.58,9.76 46.38,12.37 44.15,10.80 41.92,12.37 42.72,9.76 40.54,8.13 43.27,8.09" fill="#fff"/><polygon points="25.90,5.50 26.78,8.09 29.51,8.13 27.33,9.76 28.13,12.37 25.90,10.80 23.67,12.37 24.47,9.76 22.29,8.13 25.02,8.09" fill="#fff"/><polygon points="7.65,5.50 8.53,8.09 11.26,8.13 9.08,9.76 9.88,12.37 7.65,10.80 5.42,12.37 6.22,9.76 4.04,8.13 6.77,8.09" fill="#fff"/><polygon points="53.30,12.04 54.18,14.63 56.91,14.67 54.73,16.30 55.53,18.91 53.30,17.34 51.07,18.91 51.87,16.30 49.69,14.67 52.42,14.63" fill="#fff"/><polygon points="35.05,12.04 35.93,14.63 38.66,14.67 36.48,16.30 37.28,18.91 35.05,17.34 32.82,18.91 33.62,16.30 31.44,14.67 34.17,14.63" fill="#fff"/><polygon points="16.80,12.04 17.68,14.63 20.41,14.67 18.23,16.30 19.03,18.91 16.80,17.34 14.57,18.91 15.37,16.30 13.19,14.67 15.92,14.63" fill="#fff"/><polygon points="-1.45,12.04 -0.57,14.63 2.16,14.67 -0.02,16.30 0.78,18.91 -1.45,17.34 -3.68,18.91 -2.88,16.30 -5.06,14.67 -2.33,14.63" fill="#fff"/><polygon points="62.40,18.58 63.28,21.17 66.01,21.21 63.83,22.84 64.63,25.45 62.40,23.88 60.17,25.45 60.97,22.84 58.79,21.21 61.52,21.17" fill="#fff"/><polygon points="44.15,18.58 45.03,21.17 47.76,21.21 45.58,22.84 46.38,25.45 44.15,23.88 41.92,25.45 42.72,22.84 40.54,21.21 43.27,21.17" fill="#fff"/><polygon points="25.90,18.58 26.78,21.17 29.51,21.21 27.33,22.84 28.13,25.45 25.90,23.88 23.67,25.45 24.47,22.84 22.29,21.21 25.02,21.17" fill="#fff"/><polygon points="7.65,18.58 8.53,21.17 11.26,21.21 9.08,22.84 9.88,25.45 7.65,23.88 5.42,25.45 6.22,22.84 4.04,21.21 6.77,21.17" fill="#fff"/><polygon points="53.30,25.12 54.18,27.71 56.91,27.75 54.73,29.38 55.53,31.99 53.30,30.42 51.07,31.99 51.87,29.38 49.69,27.75 52.42,27.71" fill="#fff"/><polygon points="35.05,25.12 35.93,27.71 38.66,27.75 36.48,29.38 37.28,31.99 35.05,30.42 32.82,31.99 33.62,29.38 31.44,27.75 34.17,27.71" fill="#fff"/><polygon points="16.80,25.12 17.68,27.71 20.41,27.75 18.23,29.38 19.03,31.99 16.80,30.42 14.57,31.99 15.37,29.38 13.19,27.75 15.92,27.71" fill="#fff"/><polygon points="-1.45,25.12 -0.57,27.71 2.16,27.75 -0.02,29.38 0.78,31.99 -1.45,30.42 -3.68,31.99 -2.88,29.38 -5.06,27.75 -2.33,27.71" fill="#fff"/><polygon points="62.40,31.66 63.28,34.25 66.01,34.29 63.83,35.92 64.63,38.53 62.40,36.96 60.17,38.53 60.97,35.92 58.79,34.29 61.52,34.25" fill="#fff"/><polygon points="44.15,31.66 45.03,34.25 47.76,34.29 45.58,35.92 46.38,38.53 44.15,36.96 41.92,38.53 42.72,35.92 40.54,34.29 43.27,34.25" fill="#fff"/><polygon points="25.90,31.66 26.78,34.25 29.51,34.29 27.33,35.92 28.13,38.53 25.90,36.96 23.67,38.53 24.47,35.92 22.29,34.29 25.02,34.25" fill="#fff"/><polygon points="7.65,31.66 8.53,34.25 11.26,34.29 9.08,35.92 9.88,38.53 7.65,36.96 5.42,38.53 6.22,35.92 4.04,34.29 6.77,34.25" fill="#fff"/><polygon points="53.30,38.20 54.18,40.79 56.91,40.83 54.73,42.46 55.53,45.07 53.30,43.50 51.07,45.07 51.87,42.46 49.69,40.83 52.42,40.79" fill="#fff"/><polygon points="35.05,38.20 35.93,40.79 38.66,40.83 36.48,42.46 37.28,45.07 35.05,43.50 32.82,45.07 33.62,42.46 31.44,40.83 34.17,40.79" fill="#fff"/><polygon points="16.80,38.20 17.68,40.79 20.41,40.83 18.23,42.46 19.03,45.07 16.80,43.50 14.57,45.07 15.37,42.46 13.19,40.83 15.92,40.79" fill="#fff"/><polygon points="-1.45,38.20 -0.57,40.79 2.16,40.83 -0.02,42.46 0.78,45.07 -1.45,43.50 -3.68,45.07 -2.88,42.46 -5.06,40.83 -2.33,40.79" fill="#fff"/><polygon points="62.40,44.74 63.28,47.33 66.01,47.37 63.83,49.00 64.63,51.61 62.40,50.04 60.17,51.61 60.97,49.00 58.79,47.37 61.52,47.33" fill="#fff"/><polygon points="44.15,44.74 45.03,47.33 47.76,47.37 45.58,49.00 46.38,51.61 44.15,50.04 41.92,51.61 42.72,49.00 40.54,47.37 43.27,47.33" fill="#fff"/><polygon points="25.90,44.74 26.78,47.33 29.51,47.37 27.33,49.00 28.13,51.61 25.90,50.04 23.67,51.61 24.47,49.00 22.29,47.37 25.02,47.33" fill="#fff"/><polygon points="7.65,44.74 8.53,47.33 11.26,47.37 9.08,49.00 9.88,51.61 7.65,50.04 5.42,51.61 6.22,49.00 4.04,47.37 6.77,47.33" fill="#fff"/><polygon points="53.30,51.28 54.18,53.87 56.91,53.91 54.73,55.54 55.53,58.15 53.30,56.58 51.07,58.15 51.87,55.54 49.69,53.91 52.42,53.87" fill="#fff"/><polygon points="35.05,51.28 35.93,53.87 38.66,53.91 36.48,55.54 37.28,58.15 35.05,56.58 32.82,58.15 33.62,55.54 31.44,53.91 34.17,53.87" fill="#fff"/><polygon points="16.80,51.28 17.68,53.87 20.41,53.91 18.23,55.54 19.03,58.15 16.80,56.58 14.57,58.15 15.37,55.54 13.19,53.91 15.92,53.87" fill="#fff"/><polygon points="-1.45,51.28 -0.57,53.87 2.16,53.91 -0.02,55.54 0.78,58.15 -1.45,56.58 -3.68,58.15 -2.88,55.54 -5.06,53.91 -2.33,53.87" fill="#fff"/><polygon points="62.40,57.82 63.28,60.41 66.01,60.45 63.83,62.08 64.63,64.69 62.40,63.12 60.17,64.69 60.97,62.08 58.79,60.45 61.52,60.41" fill="#fff"/><polygon points="44.15,57.82 45.03,60.41 47.76,60.45 45.58,62.08 46.38,64.69 44.15,63.12 41.92,64.69 42.72,62.08 40.54,60.45 43.27,60.41" fill="#fff"/><polygon points="25.90,57.82 26.78,60.41 29.51,60.45 27.33,62.08 28.13,64.69 25.90,63.12 23.67,64.69 24.47,62.08 22.29,60.45 25.02,60.41" fill="#fff"/><polygon points="7.65,57.82 8.53,60.41 11.26,60.45 9.08,62.08 9.88,64.69 7.65,63.12 5.42,64.69 6.22,62.08 4.04,60.45 6.77,60.41" fill="#fff"/></g><circle cx="67.25" cy="67.25" r="65.60" fill="none" stroke="#000" stroke-width="3.3"/></g></g>
<g><clipPath id="fc9"><circle cx="67.25" cy="67.25" r="65.60"/></clipPath><g transform="translate(124.75,1809.50)"><g clip-path="url(#fc9)"><rect x="0.00" y="0.00" width="134.50" height="134.50" fill="#e42531"/><rect x="0.00" y="0.00" width="134.50" height="38.00" fill="#fff"/><rect x="0.00" y="38.00" width="134.50" height="58.30" fill="#2060b0"/></g><circle cx="67.25" cy="67.25" r="65.60" fill="none" stroke="#000" stroke-width="3.3"/></g></g>
<g><clipPath id="fc10"><circle cx="67.25" cy="67.25" r="65.60"/></clipPath><g transform="translate(124.75,1956.25)"><g clip-path="url(#fc10)"><rect x="0.00" y="0.00" width="134.50" height="134.50" fill="#fff"/><rect x="51.50" y="0.00" width="31.20" height="134.50" fill="#e32434"/><rect x="0.00" y="52.80" width="134.50" height="31.50" fill="#e32434"/></g><circle cx="67.25" cy="67.25" r="65.60" fill="none" stroke="#000" stroke-width="3.3"/></g></g>
<g><clipPath id="fc11"><circle cx="67.25" cy="67.25" r="65.60"/></clipPath><g transform="translate(124.75,2103.00)"><g clip-path="url(#fc11)"><rect x="0.00" y="0.00" width="134.50" height="134.50" fill="#e32b2a"/><rect x="0.00" y="13.70" width="134.50" height="103.00" fill="#fcc624"/><rect x="26.10" y="105.00" width="10.50" height="8.00" fill="#3d7fb8"/><rect x="27.10" y="100.00" width="8.50" height="6.00" fill="#c8a03a"/><rect x="27.60" y="55.00" width="7.30" height="46.00" fill="#fff"/><rect x="27.6" y="55" width="7.3" height="46" fill="none" stroke="#c8a03a" stroke-width="1"/><rect x="26.60" y="50.00" width="9.30" height="5.50" fill="#c8a03a"/><path d="M26.1,50 Q31.2,40 36.4,50 Z" fill="#e32b2a" stroke="#c8a03a" stroke-width="1.2"/><rect x="95.90" y="105.00" width="10.50" height="8.00" fill="#3d7fb8"/><rect x="96.90" y="100.00" width="8.50" height="6.00" fill="#c8a03a"/><rect x="97.40" y="55.00" width="7.30" height="46.00" fill="#fff"/><rect x="97.4" y="55" width="7.3" height="46" fill="none" stroke="#c8a03a" stroke-width="1"/><rect x="96.40" y="50.00" width="9.30" height="5.50" fill="#c8a03a"/><path d="M95.9,50 Q101.1,40 106.2,50 Z" fill="#e32b2a" stroke="#c8a03a" stroke-width="1.2"/><path d="M22,73 L42,70.5 L42,77 L24,80 Z M38,78 L24,88 L26,93 L40,83 Z" fill="#e32b2a"/><path d="M112,73 L92,70.5 L92,77 L110,80 Z M96,78 L110,88 L108,93 L94,83 Z" fill="#e32b2a"/><path d="M46,53 L44,40 Q50,31 58,36 Q66,24 74,36 Q82,31 90,40 L88,53 Z" fill="#c8a03a"/><path d="M49,45 Q52,38 58,40 Q66,33 74,40 Q80,38 85,45 L84,50 H50 Z" fill="#e32b2a"/><rect x="65.80" y="22.00" width="2.00" height="12.00" fill="#c8a03a"/><circle cx="66.8" cy="33" r="2.2" fill="#2f5ba6"/><path d="M42.2,54.4 H90.3 V96 Q90.3,111.3 66.3,111.3 Q42.2,111.3 42.2,96 Z" fill="#fff" stroke="#c8a03a" stroke-width="0.8"/><path d="M42.6,54.8 H66.3 V81 H42.6 Z" fill="#e32b2a"/><path d="M49,62 h11 v16 h-11 z" fill="#c8a03a"/><path d="M70,60 q6,-2 10,4 q4,6 -2,10 q6,4 2,8 l-10,-2 q-2,-10 0,-20 z" fill="#2f5ba6"/><path d="M42.6,81 H66.3 V110.9 Q42.6,110 42.6,96 Z" fill="#fcc624"/><rect x="45.50" y="81.00" width="2.80" height="29.00" fill="#e32b2a"/><rect x="51.10" y="81.00" width="2.80" height="29.00" fill="#e32b2a"/><rect x="56.70" y="81.00" width="2.80" height="29.00" fill="#e32b2a"/><rect x="62.30" y="81.00" width="2.80" height="29.00" fill="#e32b2a"/><path d="M66.3,81 H89.9 V96 Q89.9,110.5 66.3,110.9 Z" fill="#c8322a"/><circle cx="78" cy="95" r="3" fill="#2e7d3a"/><ellipse cx="66.3" cy="81.4" rx="6.4" ry="8.9" fill="#2f5ba6" stroke="#e32b2a" stroke-width="2"/></g><circle cx="67.25" cy="67.25" r="65.60" fill="none" stroke="#000" stroke-width="3.3"/></g></g>
<g><clipPath id="fc12"><circle cx="67.25" cy="67.25" r="65.60"/></clipPath><g transform="translate(124.75,2249.75)"><g clip-path="url(#fc12)"><rect x="0.00" y="0.00" width="134.50" height="134.50" fill="#e2242f"/><rect x="0.00" y="0.00" width="134.50" height="43.00" fill="#050505"/><rect x="0.00" y="91.30" width="134.50" height="43.20" fill="#eac532"/></g><circle cx="67.25" cy="67.25" r="65.60" fill="none" stroke="#000" stroke-width="3.3"/></g></g>
</svg></body></html>
